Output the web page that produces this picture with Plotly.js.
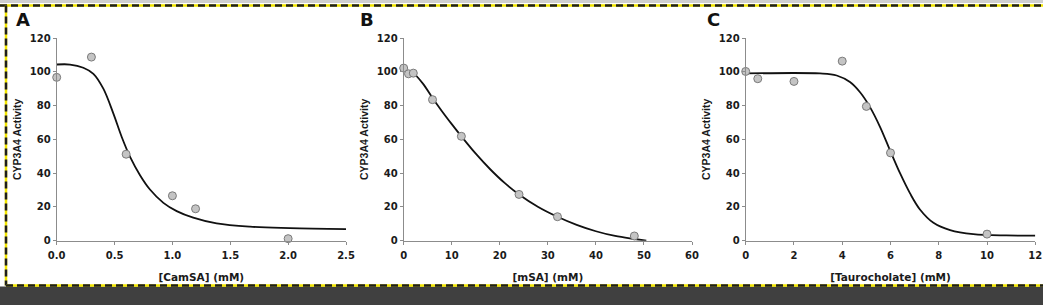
<!DOCTYPE html>
<html>
<head>
<meta charset="utf-8">
<script src="https://cdn.plot.ly/plotly-3.0.1.min.js"></script>
<style>
html,body{margin:0;padding:0;background:#fff;}
#chart{width:1050px;height:305px;}
</style>
</head>
<body>
<div id="chart"></div>
<script>
// Panel A: CamSA
const camsaConc = [0, 0.3, 0.6, 1.0, 1.2, 2.0];
const camsaActivity = [96.7, 108.7, 51.2, 26.6, 18.9, 1.2];
const camsaFitX = [0, 0.115, 0.23, 0.317, 0.403, 0.49, 0.562, 0.634, 0.72, 0.806, 0.922, 1.037, 1.18, 1.382, 1.67, 2.016, 2.5];
const camsaFitY = [104.3, 104.3, 102.4, 98.8, 90, 75.2, 61.4, 49.6, 38.8, 30.3, 22.4, 17.5, 13.6, 10.2, 8.3, 7.5, 6.9];

// Panel B: mSA
const msaConc = [0, 1, 2, 6, 12, 24, 32, 48];
const msaActivity = [102.2, 98.8, 99.2, 83.5, 61.8, 27.4, 14.2, 2.8];
const msaFitX = [1, 2, 4, 6, 8, 10, 12, 15, 18, 21, 24, 28, 32, 36, 40, 44, 48, 50.5];
const msaFitY = [100.5, 99.2, 93, 84.5, 76.5, 69, 61.8, 51.5, 42.3, 34.2, 27.4, 20, 14.2, 9.4, 5.6, 2.8, 1, 0];

// Panel C: Taurocholate
const tcConc = [0, 0.5, 2, 4, 5, 6, 10];
const tcActivity = [100.2, 95.9, 94.3, 106.3, 79.5, 52, 3.9];
const tcFitX = [0, 3.08, 3.77, 4.32, 4.73, 5.15, 5.57, 5.98, 6.4, 6.81, 7.22, 7.78, 8.47, 9.43, 10.8, 12];
const tcFitY = [99, 99, 97.8, 93.9, 88, 79.1, 67.3, 53.5, 39.8, 28, 18.5, 10.6, 6.3, 3.9, 3.1, 3];

const panelLetters = ['A', 'B', 'C'];
const xTitles = ['[CamSA] (mM)', '[mSA] (mM)', '[Taurocholate] (mM)'];
const yTitle = 'CYP3A4 Activity';
const xRanges = [[0, 2.5], [0, 60], [0, 12]];
const xDticks = [0.5, 10, 2];

const W = 1050, H = 305;
const px = v => v / W;
const py = v => 1 - v / H;

const axisGray = '#8c8c8c';
const textCol = '#1a1a1a';
const tickFont = {family: 'DejaVu Sans', size: 10, color: textCol, weight: 700};
const xTitleFont = {family: 'DejaVu Sans', size: 10.5, color: textCol, weight: 700};
const yTitleFont = {family: 'Liberation Sans', size: 10.5, color: textCol, weight: 700};

const xDomains = [[px(56.7), px(346)], [px(403.7), px(692)], [px(745.7), px(1035.3)]];
const yDomain = [py(240.7), py(38)];

const fits = [[camsaFitX, camsaFitY], [msaFitX, msaFitY], [tcFitX, tcFitY]];
const pts = [[camsaConc, camsaActivity], [msaConc, msaActivity], [tcConc, tcActivity]];

const data = [];
for (let i = 0; i < 3; i++) {
  const xa = i === 0 ? 'x' : 'x' + (i + 1);
  const ya = i === 0 ? 'y' : 'y' + (i + 1);
  data.push({
    x: fits[i][0], y: fits[i][1], xaxis: xa, yaxis: ya,
    type: 'scatter', mode: 'lines',
    line: {color: '#111111', width: 1.8, shape: 'spline', smoothing: 1},
    hoverinfo: 'skip', showlegend: false, cliponaxis: false
  });
  data.push({
    x: pts[i][0], y: pts[i][1], xaxis: xa, yaxis: ya,
    type: 'scatter', mode: 'markers',
    marker: {size: 8, color: '#c4c4c4', line: {color: '#7a7a7a', width: 1}},
    showlegend: false, cliponaxis: false
  });
}

const layout = {
  width: W, height: H,
  margin: {l: 0, r: 0, t: 0, b: 0},
  paper_bgcolor: '#ffffff', plot_bgcolor: 'rgba(0,0,0,0)',
  showlegend: false,
  annotations: [],
  shapes: [
    {type: 'rect', xref: 'paper', yref: 'paper', x0: 0, x1: px(1043), y0: py(0), y1: py(3), fillcolor: '#cfcfcf', line: {width: 0}, layer: 'below'},
    {type: 'line', xref: 'paper', yref: 'paper', x0: 0, x1: px(1043), y0: py(5.5), y1: py(5.5), line: {color: '#f2e600', width: 2.5}},
    {type: 'line', xref: 'paper', yref: 'paper', x0: 0, x1: px(1043), y0: py(5.5), y1: py(5.5), line: {color: '#1e1e1e', width: 2.5, dash: '7px,4px'}},
    {type: 'line', xref: 'paper', yref: 'paper', x0: px(6), x1: px(6), y0: py(5.5), y1: py(285.5), line: {color: '#f2e600', width: 2.5}},
    {type: 'line', xref: 'paper', yref: 'paper', x0: px(6), x1: px(6), y0: py(5.5), y1: py(285.5), line: {color: '#1e1e1e', width: 2.5, dash: '7px,4px'}},
    {type: 'rect', xref: 'paper', yref: 'paper', x0: 0, x1: px(1043), y0: 0, y1: py(286.5), fillcolor: '#404040', line: {width: 0}},
    {type: 'line', xref: 'paper', yref: 'paper', x0: px(6), x1: px(1043), y0: py(285.5), y1: py(285.5), line: {color: '#f2e600', width: 2.5}},
    {type: 'line', xref: 'paper', yref: 'paper', x0: px(6), x1: px(1043), y0: py(285.5), y1: py(285.5), line: {color: '#1e1e1e', width: 2.5, dash: '7px,4px'}}
  ]
};

const letterX = [22.5, 367, 713];
for (let i = 0; i < 3; i++) {
  const sfx = i === 0 ? '' : String(i + 1);
  layout['xaxis' + sfx] = {
    domain: xDomains[i], anchor: 'y' + sfx, range: xRanges[i],
    dtick: xDticks[i], tick0: 0,
    tickformat: i === 0 ? '.1f' : 'd',
    showgrid: false, zeroline: false,
    showline: true, linecolor: axisGray, linewidth: 1,
    ticks: 'outside', ticklen: 3, tickcolor: axisGray, tickwidth: 1,
    ticklabelstandoff: 2,
    tickfont: tickFont,
    title: {text: xTitles[i], font: xTitleFont, standoff: 13},
    fixedrange: true
  };
  layout['yaxis' + sfx] = {
    domain: yDomain, anchor: 'x' + sfx, range: [0, 120], dtick: 20, tick0: 0,
    showgrid: false, zeroline: false,
    showline: true, linecolor: axisGray, linewidth: 1,
    ticks: 'outside', ticklen: 3, tickcolor: axisGray, tickwidth: 1,
    tickfont: tickFont,
    title: {text: yTitle, font: yTitleFont, standoff: 6},
    fixedrange: true
  };
  layout.annotations.push({
    text: panelLetters[i], xref: 'paper', yref: 'paper',
    x: px(letterX[i]), y: py(20), xanchor: 'center', yanchor: 'middle',
    showarrow: false,
    font: {family: 'DejaVu Sans', size: 18, color: '#111111', weight: 700}
  });
}

Plotly.newPlot('chart', data, layout, {displayModeBar: false, staticPlot: true});
</script>
</body>
</html>
